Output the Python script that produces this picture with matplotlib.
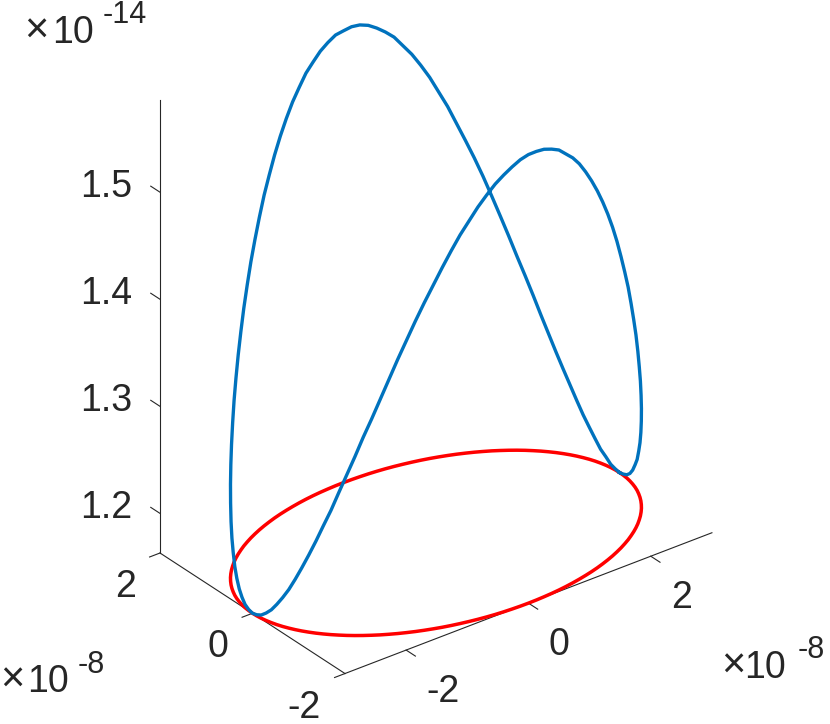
import numpy as np
import matplotlib
matplotlib.use("Agg")
import matplotlib.pyplot as plt
from mpl_toolkits.mplot3d import proj3d

# ---- data (x, y in units of 1e-8, z in units of 1e-14) ----
x_e8 = [3.000, 2.997, 2.989, 2.974, 2.954, 2.929, 2.898, 2.861, 2.819, 2.772, 2.719, 2.661, 2.598, 2.530, 2.457, 2.380,
        2.298, 2.212, 2.121, 2.027, 1.928, 1.826, 1.721, 1.612, 1.500, 1.385, 1.268, 1.148, 1.026, 0.902, 0.776, 0.649,
        0.521, 0.392, 0.261, 0.131, 0.000,
        -0.131, -0.261, -0.392, -0.521, -0.649, -0.776, -0.902, -1.026, -1.148, -1.268, -1.385, -1.500, -1.612, -1.721,
        -1.826, -1.928, -2.027, -2.121, -2.212, -2.298, -2.380, -2.457, -2.530, -2.598, -2.661, -2.719, -2.772, -2.819,
        -2.861, -2.898, -2.929, -2.954, -2.974, -2.989, -2.997, -3.000,
        -2.997, -2.989, -2.974, -2.954, -2.929, -2.898, -2.861, -2.819, -2.772, -2.719, -2.661, -2.598, -2.530, -2.457,
        -2.380, -2.298, -2.212, -2.121, -2.027, -1.928, -1.826, -1.721, -1.612, -1.500, -1.385, -1.268, -1.148, -1.026,
        -0.902, -0.776, -0.649, -0.521, -0.392, -0.261, -0.131, 0.000,
        0.131, 0.261, 0.392, 0.521, 0.649, 0.776, 0.902, 1.026, 1.148, 1.268, 1.385, 1.500, 1.612, 1.721, 1.826, 1.928,
        2.027, 2.121, 2.212, 2.298, 2.380, 2.457, 2.530, 2.598, 2.661, 2.719, 2.772, 2.819, 2.861, 2.898, 2.929, 2.954,
        2.974, 2.989, 2.997, 3.000]
y_e8 = [0.000, 0.087, 0.174, 0.261, 0.347, 0.433, 0.518, 0.601, 0.684, 0.765, 0.845, 0.924, 1.000, 1.075, 1.147, 1.218,
        1.286, 1.351, 1.414, 1.475, 1.532, 1.587, 1.638, 1.687, 1.732, 1.774, 1.813, 1.848, 1.879, 1.907, 1.932, 1.953,
        1.970, 1.983, 1.992, 1.998, 2.000,
        1.998, 1.992, 1.983, 1.970, 1.953, 1.932, 1.907, 1.879, 1.848, 1.813, 1.774, 1.732, 1.687, 1.638, 1.587, 1.532,
        1.475, 1.414, 1.351, 1.286, 1.218, 1.147, 1.075, 1.000, 0.924, 0.845, 0.765, 0.684, 0.601, 0.518, 0.433, 0.347,
        0.261, 0.174, 0.087, 0.000,
        -0.087, -0.174, -0.261, -0.347, -0.433, -0.518, -0.601, -0.684, -0.765, -0.845, -0.924, -1.000, -1.075, -1.147,
        -1.218, -1.286, -1.351, -1.414, -1.475, -1.532, -1.587, -1.638, -1.687, -1.732, -1.774, -1.813, -1.848, -1.879,
        -1.907, -1.932, -1.953, -1.970, -1.983, -1.992, -1.998, -2.000,
        -1.998, -1.992, -1.983, -1.970, -1.953, -1.932, -1.907, -1.879, -1.848, -1.813, -1.774, -1.732, -1.687, -1.638,
        -1.587, -1.532, -1.475, -1.414, -1.351, -1.286, -1.218, -1.147, -1.075, -1.000, -0.924, -0.845, -0.765, -0.684,
        -0.601, -0.518, -0.433, -0.347, -0.261, -0.174, -0.087, 0.000]
z_e14 = [1.163, 1.164, 1.166, 1.171, 1.176, 1.184, 1.193, 1.203, 1.215, 1.228, 1.242, 1.257, 1.273, 1.290, 1.308, 1.326,
         1.344, 1.363, 1.382, 1.401, 1.420, 1.438, 1.455, 1.472, 1.489, 1.504, 1.519, 1.532, 1.544, 1.554, 1.564, 1.571,
         1.577, 1.582, 1.585, 1.586, 1.585,
         1.584, 1.580, 1.575, 1.568, 1.561, 1.551, 1.541, 1.529, 1.516, 1.502, 1.487, 1.472, 1.455, 1.438, 1.421, 1.403,
         1.385, 1.367, 1.349, 1.331, 1.314, 1.297, 1.280, 1.265, 1.250, 1.236, 1.222, 1.210, 1.200, 1.190, 1.182, 1.175,
         1.170, 1.166, 1.164, 1.163,
         1.164, 1.166, 1.170, 1.175, 1.182, 1.190, 1.199, 1.210, 1.222, 1.235, 1.249, 1.264, 1.279, 1.296, 1.313, 1.330,
         1.348, 1.365, 1.383, 1.401, 1.419, 1.436, 1.453, 1.469, 1.484, 1.499, 1.513, 1.526, 1.537, 1.548, 1.557, 1.565,
         1.571, 1.576, 1.580, 1.582,
         1.582, 1.581, 1.578, 1.574, 1.567, 1.560, 1.551, 1.540, 1.528, 1.515, 1.501, 1.486, 1.470, 1.453, 1.435, 1.417,
         1.399, 1.380, 1.361, 1.343, 1.324, 1.306, 1.289, 1.272, 1.256, 1.241, 1.227, 1.214, 1.203, 1.192, 1.184, 1.176,
         1.170, 1.166, 1.164, 1.163]
floor_z = 1.163   # red curve: projection of the orbit onto the floor plane

x_ticks = [-2, 0, 2]
y_ticks = [-2, 0, 2]
z_ticks = [1.2, 1.3, 1.4, 1.5]
x_tick_labels = ["-2", "0", "2"]
y_tick_labels = ["-2", "0", "2"]
z_tick_labels = ["1.2", "1.3", "1.4", "1.5"]
x_range = (-3.0, 3.0)
y_range = (-2.0, 2.0)
z_range = (1.163, 1.586)

BLUE = "#0072BD"
RED = "#FF0000"
AXC = "#262626"

W, H = 830, 724
plt.rcParams['font.family'] = ['Liberation Sans', 'DejaVu Sans']
fig = plt.figure(figsize=(W / 100, H / 100), dpi=100)
fig.patch.set_facecolor("white")
ax = fig.add_axes([0.05, 0.05, 0.9, 0.9], projection='3d', proj_type='ortho',
                  computed_zorder=False)
ax.set_box_aspect((462.6, 303.9, 523))
ax.view_init(elev=30, azim=-127.5)
ax.set_xlim(*x_range)
ax.set_ylim(*y_range)
ax.set_zlim(*z_range)
ax.set_axis_off()

x0, x1 = x_range
y0, y1 = y_range
z0, z1 = z_range


def to_px(x, y, z):
    xp, yp, _ = proj3d.proj_transform(x, y, z, ax.get_proj())
    return np.array(ax.transData.transform((xp, yp)))


# --- place the axes so the box corners land where the reference has them ---
fig.canvas.draw()
TA = np.array([160.0, H - 553.0])   # corner (x0, y1, z0)
TB = np.array([712.0, H - 535.0])   # corner (x1, y0, z0)
PA = to_px(x0, y1, z0)
PB = to_px(x1, y0, z0)
bb = ax.get_position()
s0 = bb.width * W
C0 = np.array([(bb.x0 + bb.x1) / 2 * W, (bb.y0 + bb.y1) / 2 * H])
f = np.linalg.norm(TB - TA) / np.linalg.norm(PB - PA)
s1 = s0 * f
C1 = TA - (PA - C0) * f
ax.set_position([(C1[0] - s1 / 2) / W, (C1[1] - s1 / 2) / H, s1 / W, s1 / H])
fig.canvas.draw()

# --- axis lines and ticks ---
alw = 0.8
ax.plot([x0, x1], [y0, y0], [z0, z0], color=AXC, lw=alw)
ax.plot([x0, x0], [y0, y1], [z0, z0], color=AXC, lw=alw)
ax.plot([x0, x0], [y1, y1], [z0, z1], color=AXC, lw=alw)
tly = 0.2
tlx = 0.17
for xt in x_ticks:
    ax.plot([xt, xt], [y0, y0 - tly], [z0, z0], color=AXC, lw=alw)
for yt in y_ticks:
    ax.plot([x0, x0 - tlx], [yt, yt], [z0, z0], color=AXC, lw=alw)
for zt in z_ticks:
    ax.plot([x0, x0], [y1, y1 + tly], [zt, zt], color=AXC, lw=alw)

# --- data curves ---
ax.plot(x_e8, y_e8, [floor_z] * len(x_e8), color=RED, lw=2.5)
ax.plot(x_e8, y_e8, z_e14, color=BLUE, lw=2.4)

# --- tick labels (placed at the projected tick ends) ---
FS = 27


def lab(x, y, z, s, dx, dy, ha, va, fs=FS):
    p = to_px(x, y, z)
    fig.text((p[0] + dx) / W, (p[1] + dy) / H, s, ha=ha, va=va, fontsize=fs, color=AXC)


for zt, s in zip(z_ticks, z_tick_labels):
    lab(x0, y1 + tly, zt, s, -19, -1, 'right', 'center')
for yt, s in zip(y_ticks, y_tick_labels):
    lab(x0 - tlx, yt, z0, s, -14, -30, 'right', 'center')
for xt, s in zip(x_ticks, x_tick_labels):
    lab(xt, y0 - tly, z0, s, 11, -36, 'left', 'center')


# --- exponent labels ---
def ftext(px, py, s, fs, ha='left', va='baseline'):
    fig.text(px / W, 1 - py / H, s, fontsize=fs, color=AXC, ha=ha, va=va)


def exponent(times_x, base_left, baseline, sup_left, sup_base, sup):
    ftext(times_x, baseline - 11.5, "\u00d7", 30, ha='center', va='center')
    ftext(base_left, baseline, "10", FS)
    ftext(sup_left, sup_base, sup, 22)


exponent(36, 52, 43, 103, 23, "-14")
exponent(12, 27, 692, 78, 673, "-8")
exponent(733, 744, 678, 798, 658, "-8")

fig.savefig("out.png", dpi=100)
